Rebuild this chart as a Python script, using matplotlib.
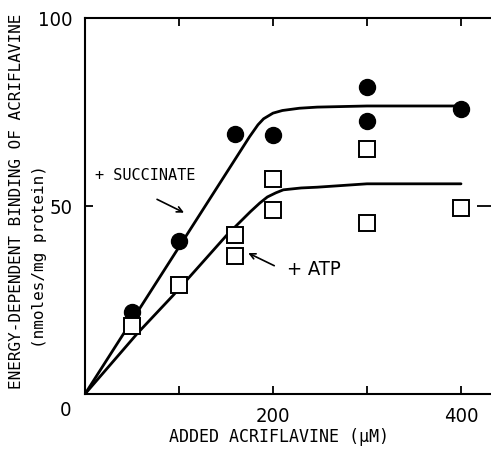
import matplotlib.pyplot as plt
from matplotlib import font_manager

# measured points (µM, nmoles/mg protein)
succ_x = [50, 100, 160, 200, 300, 300, 400]
succ_y = [21.8, 40.8, 69.1, 68.8, 81.6, 72.6, 75.8]
atp_x = [50, 100, 160, 160, 200, 200, 300, 300, 400]
atp_y = [18.1, 29.0, 42.3, 36.7, 57.2, 48.9, 65.2, 45.5, 49.5]

# drawn curves
succ_cx = [0, 175, 184, 190, 200, 210, 228, 247, 300, 400]
succ_cy = [0, 68.4, 71.6, 73.2, 74.7, 75.4, 76.0, 76.3, 76.6, 76.6]
atp_cx = [0, 56, 94, 151, 176, 186, 194, 203, 211, 230, 247, 300, 400]
atp_cy = [0, 16.2, 26.3, 42.3, 48.5, 50.8, 52.4, 53.5, 54.3, 54.8, 55.0, 55.9, 55.9]

mono = 'DejaVu Sans Mono'
narrow = font_manager.FontProperties(family='DejaVu Sans', stretch='condensed', size=14.5)

fig = plt.figure(figsize=(4.91, 4.49), dpi=100)
ax = fig.add_axes([85 / 491, 55 / 449, 0.94 * 440 / 491, 376 / 449])

ax.plot(succ_cx, succ_cy, color='black', lw=2, solid_capstyle='round')
ax.plot(atp_cx, atp_cy, color='black', lw=2, solid_capstyle='round')
ax.plot(succ_x, succ_y, 'o', color='black', ms=11.5, ls='none', clip_on=False)
ax.plot(atp_x, atp_y, 's', mfc='white', mec='black', mew=1.4, ms=11, ls='none', clip_on=False)

ax.set_xlim(0, 440)
ax.set_ylim(0, 100)

for s in ax.spines.values():
    s.set_linewidth(1.5)

ax.set_xticks([100, 200, 300, 400])
ax.set_xticklabels(['', '200', '', '400'])
ax.set_yticks([50, 100])
ax.set_yticklabels(['50', '100'])
ax.tick_params(direction='in', length=6, width=1.3, top=True, right=True, pad=9)
for lab in ax.get_xticklabels() + ax.get_yticklabels():
    lab.set_fontproperties(narrow)
# right-hand tick at 50 reaches into the picture
ax.yaxis.get_major_ticks()[0].tick2line.set_markersize(16)

ax.text(-21, -4.3, '0', fontproperties=narrow, ha='center', va='center', clip_on=False)

ax.text(10.6, 58.2, '+ SUCCINATE', fontsize=11, family=mono, ha='left', va='center')
ax.annotate('', xy=(108, 47.9), xytext=(74, 52.1),
            arrowprops=dict(arrowstyle='->', color='black', lw=1.2))
ax.text(215, 33.0, '+ ATP', fontproperties=narrow, ha='left', va='center')
ax.annotate('', xy=(171, 37.8), xytext=(204, 33.8),
            arrowprops=dict(arrowstyle='->', color='black', lw=1.2))

fig.text(279 / 491, 1 - 437 / 449, 'ADDED ACRIFLAVINE (µM)', fontsize=12, family=mono,
         ha='center', va='center')
fig.text(17 / 491, 1 - 201 / 449, 'ENERGY-DEPENDENT BINDING OF ACRIFLAVINE', fontsize=11.5,
         family=mono, rotation=90, ha='center', va='center')
fig.text(40 / 491, 1 - 257 / 449, '(nmoles/mg protein)', fontsize=11.5, family=mono,
         rotation=90, ha='center', va='center')

fig.savefig('out.png', dpi=100)
